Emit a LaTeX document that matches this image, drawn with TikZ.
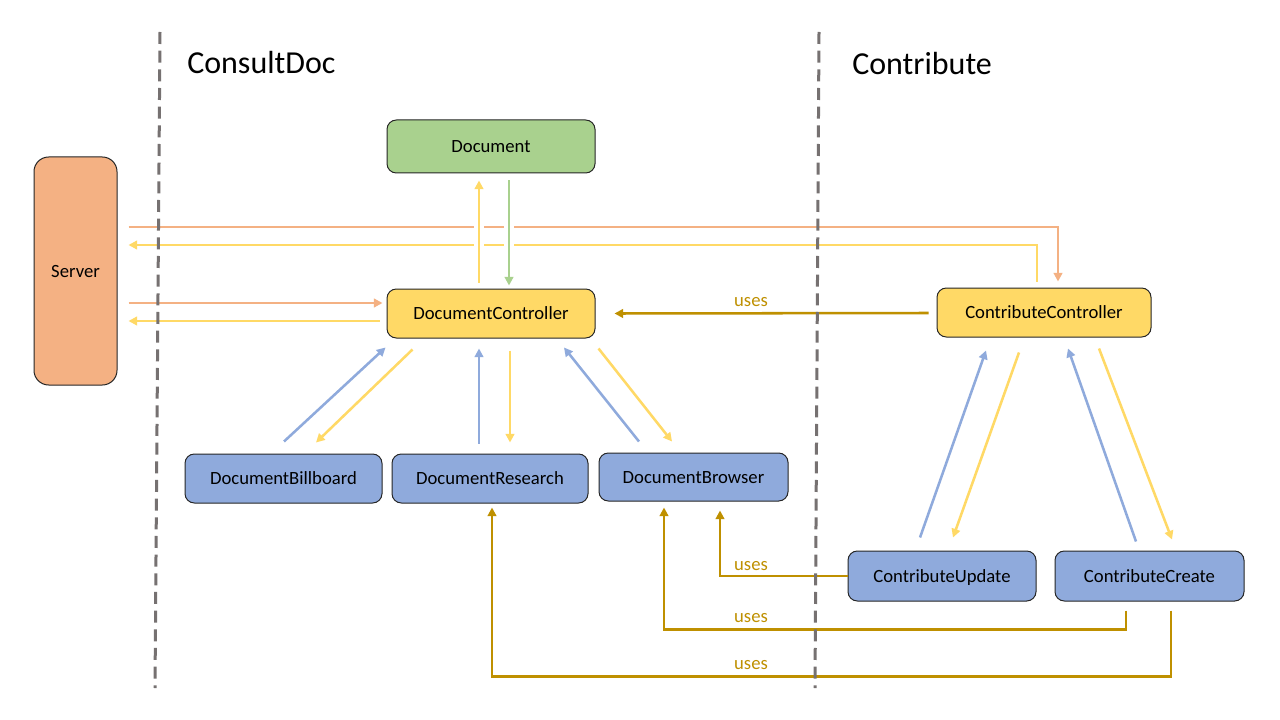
\documentclass[tikz,border=0pt]{standalone}
\usepackage{fontspec}
\setmainfont{Carlito}
\usetikzlibrary{calc,arrows.meta}
\definecolor{corange}{HTML}{F4B183}
\definecolor{cgreen}{HTML}{A9D18E}
\definecolor{cyellow}{HTML}{FFD966}
\definecolor{cblue}{HTML}{8FAADC}
\definecolor{cgold}{HTML}{BF9000}
\definecolor{cgray}{HTML}{767171}
\tikzset{
  box/.style={draw=black!85, line width=0.75pt, rounded corners=7pt, font=\fontsize{14pt}{16pt}\selectfont, inner sep=0pt, align=center, text height=11pt, text depth=1.8pt},
  arr/.style={line width=1.9pt, -{Triangle[length=6.5pt,width=6.5pt]}},
  oarr/.style={arr, draw=corange},
  yarr/.style={arr, draw=cyellow},
  barr/.style={arr, draw=cblue},
  garr/.style={arr, draw=cgreen},
  uarr/.style={arr, draw=cgold},
  gap/.style={preaction={draw=white, line width=7.5pt, -}},
  lbl/.style={text=cgold, font=\fontsize{14pt}{16pt}\selectfont, inner sep=0pt},
  ttl/.style={font=\fontsize{24pt}{28pt}\selectfont, inner sep=0pt, anchor=west},
  sep/.style={draw=cgray, line width=2.25pt, dash pattern=on 9pt off 5pt}
}
\begin{document}
\begin{tikzpicture}[x=0.75pt,y=-0.75pt]
\useasboundingbox[fill=white] (0,0) rectangle (1280,720);

% titles
\node[ttl] (t1) at (187,63) {ConsultDoc};
\node[ttl] (t2) at (852,64) {Contribute};

% nodes
\node[box, fill=corange, rounded corners=11pt, minimum width=62.25pt, minimum height=171pt] (srv) at (75.5,271) {Server};
\node[box, fill=cgreen, minimum width=156pt, minimum height=39.75pt] (doc) at (491,146.5) {Document};
\node[box, fill=cyellow, minimum width=156pt, minimum height=36.75pt] (dc) at (491,313.5) {DocumentController};
\node[box, fill=cyellow, minimum width=160.5pt, minimum height=36.75pt] (cc) at (1044,312.5) {ContributeController};
\node[box, fill=cblue, minimum width=147.75pt, minimum height=36.75pt] (dbill) at (283.5,478.5) {DocumentBillboard};
\node[box, fill=cblue, minimum width=147pt, minimum height=36.75pt] (dres) at (490,478.5) {DocumentResearch};
\node[box, fill=cblue, minimum width=141.75pt, minimum height=36pt] (dbrow) at (693.5,477) {DocumentBrowser};
\node[box, fill=cblue, minimum width=141pt, minimum height=37.5pt] (cu) at (942,576) {ContributeUpdate};
\node[box, fill=cblue, minimum width=141.75pt, minimum height=37.5pt] (ccr) at (1149.5,576) {ContributeCreate};

% server <-> contribute controller
\draw[oarr] ($(srv.east)+(11,-44)$) -| ($(cc.north)+(14,-6)$);
\draw[yarr] ($(cc.north)+(-7,-6)$) |- ($(srv.east)+(11,-26)$);
% server <-> document controller
\draw[oarr] ($(srv.east)+(11,32)$) -- ($(dc.west)+(-4,-10.5)$);
\draw[yarr] ($(dc.west)+(-7,7.5)$) -- ($(srv.east)+(11,50)$);

% document <-> document controller
\draw[yarr, gap] ($(dc.north)+(-12,-6)$) -- ($(doc.south)+(-12,7)$);
\draw[garr, gap] ($(doc.south)+(18,7)$) -- ($(dc.north)+(18,-3)$);

% document controller <-> children
\draw[barr] ($(dbill.north)+(0.5,-12)$) -- ($(dc.south west)+(-1,9)$);
\draw[yarr] ($(dc.south west)+(26,11)$) -- ($(dbill.north)+(32.5,-11)$);
\draw[barr] ($(dres.north)+(-11,-10)$) -- ($(dc.south)+(-12,10)$);
\draw[yarr] ($(dc.south)+(19,12)$) -- ($(dres.north)+(20,-11)$);
\draw[barr] ($(dbrow.north)+(-54.5,-11)$) -- ($(dc.south)+(73,9)$);
\draw[yarr] ($(dc.south east)+(3,10)$) -- ($(dbrow.north)+(-21.5,-11)$);

% contribute controller <-> children
\draw[barr] ($(cu.north)+(-22,-13)$) -- ($(cc.south)+(-58,13)$);
\draw[yarr] ($(cc.south)+(-25,15)$) -- ($(cu.north)+(11,-13)$);
\draw[barr] ($(ccr.north)+(-13.5,-9)$) -- ($(cc.south)+(24,11)$);
\draw[yarr] ($(cc.south)+(55,11)$) -- ($(ccr.north)+(22.5,-11)$);

% uses
\draw[uarr] ($(cc.west)+(-8,0.5)$) -- ($(dc.east)+(19,0)$);
\node[lbl] (u1) at (751,302) {uses};
\draw[uarr] (cu.west) -| ($(dbrow.south)+(26.5,9)$);
\node[lbl] (u2) at (751,566) {uses};
\draw[uarr] ($(ccr.south)+(-23.5,9)$) -- ++(0,19) -| ($(dbrow.south)+(-29.5,6)$);
\node[lbl] (u3) at (751,618) {uses};
\draw[uarr] ($(ccr.south)+(21.5,9)$) -- ++(0,66) -| ($(dres.south)+(2,4)$);
\node[lbl] (u4) at (751,665) {uses};

% separators
\draw[sep] (160,32) -- (155,688);
\draw[sep] (819,32) -- (815,688);
\end{tikzpicture}
\end{document}
